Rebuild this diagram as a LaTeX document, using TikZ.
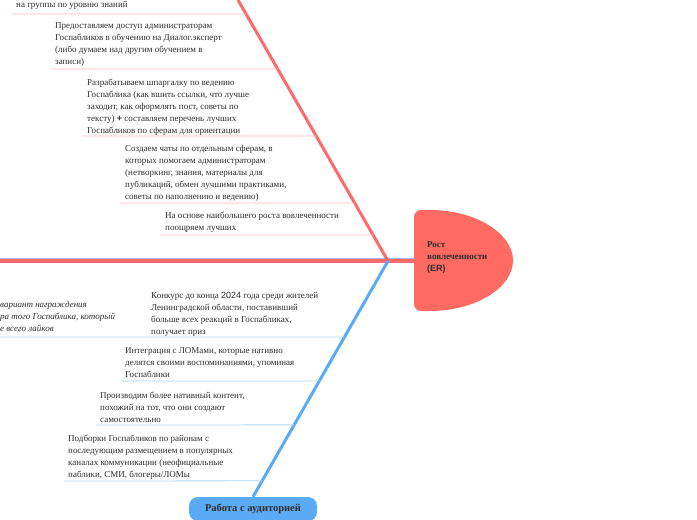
\documentclass[tikz,border=0pt]{standalone}
\usepackage{fontspec}
\setmainfont{Liberation Serif}
\newfontfamily\digitfont{Liberation Sans}
\usetikzlibrary{calc}
\definecolor{bonered}{HTML}{FF6B6B}
\definecolor{headred}{HTML}{FF6A62}
\definecolor{twigred}{HTML}{FFBDBD}
\definecolor{boneblue}{HTML}{5AAAF5}
\definecolor{twigblue}{HTML}{AFD6F8}
\definecolor{spineblue}{HTML}{A9B8EE}
\definecolor{textgray}{HTML}{2E2E2E}
\begin{document}
\begin{tikzpicture}[x=1pt,y=-1pt,
    idea/.style={anchor=north west,inner sep=0pt,align=left,text=textgray,
      font=\fontsize{9}{12}\selectfont},
    redtwig/.style={draw=twigred,line width=0.8pt},
    bluetwig/.style={draw=twigblue,line width=0.8pt}]
    \useasboundingbox (0,0) rectangle (697,520);
    \fill[white] (0,0) rectangle (697,520);
    \clip (0,0) rectangle (697,520);

    % head
    \fill[headred] (430,311) [rounded corners=7] -- (414,311) -- (414,210) [sharp corners] -- (430,210)
        .. controls (475,210) and (513,233) .. (513,260.5)
        .. controls (513,288) and (475,311) .. (430,311) -- cycle;
    \node[anchor=north west,inner sep=0pt,align=left,text=textgray,
      font=\fontsize{9}{12}\selectfont\bfseries] (head) at (427,241)
      {Рост\\вовлеченности\\{\digitfont (ER)}};
    \coordinate (headw) at (414,261);

    % spine and bones
    \coordinate (tail) at (0,261);
    \coordinate (hub) at (388,261);
    \coordinate (rtop) at (238,0);
    \node[fill=boneblue,rounded corners=9,minimum width=128pt,minimum height=24pt,
      inner sep=0pt,text=textgray,font=\fontsize{10.5}{12}\selectfont\bfseries]
      (aud) at (253,509) {Работа с аудиторией};
    \draw[spineblue,line width=1pt] (0,258.6) -- (414,258.6);
    \draw[bonered,line width=4pt] (tail) -- (headw);
    \draw[bonered,line width=3pt] (rtop) -- (hub);
    \draw[boneblue,line width=3pt] (hub) -- (aud.north);

    % red twigs
    \foreach \n/\y/\x in {1/14/12, 2/69/51, 3/136/83, 4/203/120, 5/235/160} {
      \pgfmathsetmacro\t{\y/261}
      \coordinate (rb\n) at ($(rtop)!\t!(hub)$);
      \coordinate (re\n) at (\x,\y);
      \draw[redtwig] (re\n) -- (rb\n);
    }
    % blue twigs
    \foreach \n/\y/\x in {1/337/0, 2/381/121, 3/425/96, 4/481/64} {
      \pgfmathsetmacro\t{(\y-261)/236}
      \coordinate (bb\n) at ($(hub)!\t!(aud.north)$);
      \coordinate (be\n) at (\x,\y);
      \draw[bluetwig] (be\n) -- (bb\n);
    }

    % ideas
    \node[idea] (tR1) at (16,1) {на группы по уровню знаний};
    \node[idea] (tR2) at (55,22) {Предоставляем доступ администраторам\\Госпабликов в обучению на Диалог.эксперт\\(либо думаем над другим обучением в\\записи)};
    \node[idea] (tR3) at (87,79) {Разрабатываем шпаргалку по ведению\\Госпаблика (как вшить ссылки, что лучше\\заходит, как оформлять пост, советы по\\тексту) {\digitfont\bfseries +} составляем перечень лучших\\Госпабликов по сферам для ориентации};
    \node[idea] (tR4) at (125,145) {Создаем чаты по отдельным сферам, в\\которых помогаем администраторам\\(нетворкинг, знания, материалы для\\публикаций, обмен лучшими практиками,\\советы по наполнению и ведению)};
    \node[idea] (tR5) at (165,212) {На основе наибольшего роста вовлеченности\\поощряем лучших};
    \node[idea,font=\fontsize{9}{12}\selectfont\itshape] (tB0) at (0,301) {вариант награждения\\ра того Госпаблика, который\\е всего лайков};
    \node[idea] (tB1) at (151,292) {Конкурс до конца {\digitfont 2024} года среди жителей\\Ленинградской области, поставивший\\больше всех реакций в Госпабликах,\\получает приз};
    \node[idea] (tB2) at (125,347) {Интеграция с ЛОМами, которые нативно\\делятся своими воспоминаниями, упоминая\\Госпаблики};
    \node[idea] (tB3) at (100,392) {Производим более нативный контент,\\похожий на тот, что они создают\\самостоятельно};
    \node[idea] (tB4) at (68,435) {Подборки Госпабликов по районам с\\последующим размещением в популярных\\каналах коммуникации (неофициальные\\паблики, СМИ, блогеры/ЛОМы};
\end{tikzpicture}
\end{document}
